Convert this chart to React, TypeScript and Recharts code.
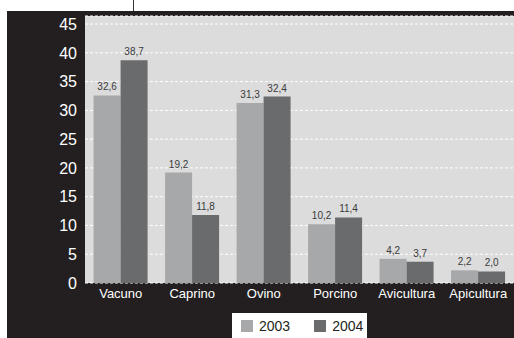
import React from 'react';
import { BarChart, Bar, XAxis, YAxis, CartesianGrid, Legend, LabelList } from 'recharts';

const categories = ['Vacuno', 'Caprino', 'Ovino', 'Porcino', 'Avicultura', 'Apicultura'];
const values2003 = [32.6, 19.2, 31.3, 10.2, 4.2, 2.2];
const values2004 = [38.7, 11.8, 32.4, 11.4, 3.7, 2.0];
const yTicks = [0, 5, 10, 15, 20, 25, 30, 35, 40, 45];

const data = categories.map((name, i) => ({
  name,
  '2003': values2003[i],
  '2004': values2004[i],
}));

const BLACK = '#231f20';
const FONT = '"Liberation Sans", Arial, sans-serif';

const fmt = (v: any) => Number(v).toFixed(1).replace('.', ',');

function LegendBox({ payload }: any) {
  return (
    <div style={{ display: 'flex', alignItems: 'center', height: 25, paddingLeft: 9 }}>
      {(payload || []).map((p: any) => (
        <div key={p.value} style={{ display: 'flex', alignItems: 'center', marginRight: 24 }}>
          <span style={{ width: 12, height: 12, background: p.color, display: 'inline-block', marginRight: 6 }} />
          <span style={{ color: BLACK, fontSize: 14, fontFamily: FONT }}>{p.value}</span>
        </div>
      ))}
    </div>
  );
}

export default function App() {
  return (
    <div style={{ position: 'absolute', left: 0, top: 0, width: 514, height: 338, background: '#fff', fontFamily: FONT, overflow: 'hidden' }}>
      <style>{'html,body{margin:0;overflow:hidden}'}</style>
      <div style={{ position: 'absolute', left: 133, top: 0, width: 1, height: 11, background: '#333' }} />
      <div style={{ position: 'absolute', left: 7, top: 11, width: 507, height: 327, background: BLACK }} />
      <div style={{ position: 'absolute', left: 0, top: 0 }}>
        <BarChart
          width={514}
          height={338}
          data={data}
          margin={{ top: 16, right: 0, bottom: 0, left: 0 }}
          barCategoryGap="12%"
          barGap={0}
        >
          <CartesianGrid
            vertical={false}
            fill="#dcdcdd"
            stroke="#ffffff"
            strokeDasharray="3 2"
            strokeWidth={1}
          />
          <XAxis
            dataKey="name"
            height={30}
            tickLine={false}
            axisLine={false}
            tickSize={6}
            tickMargin={0}
            tick={{ fill: '#ffffff', fontSize: 13, fontFamily: FONT }}
          />
          <YAxis
            width={85}
            domain={[0, 46.4]}
            ticks={yTicks}
            tickLine={false}
            axisLine={false}
            tickSize={6}
            tickMargin={2}
            tick={{ fill: '#ffffff', fontSize: 16, fontFamily: FONT }}
          />
          <Legend
            verticalAlign="bottom"
            height={25}
            content={<LegendBox />}
            wrapperStyle={{ left: 232, bottom: 0, width: 135, height: 25, background: '#ffffff' }}
          />
          <Bar dataKey="2003" fill="#a7a8aa" isAnimationActive={false}>
            <LabelList dataKey="2003" position="top" offset={5} formatter={fmt} fill="#3a3a3a" fontSize={10} fontFamily={FONT} />
          </Bar>
          <Bar dataKey="2004" fill="#6a6b6d" isAnimationActive={false}>
            <LabelList dataKey="2004" position="top" offset={5} formatter={fmt} fill="#3a3a3a" fontSize={10} fontFamily={FONT} />
          </Bar>
        </BarChart>
      </div>
    </div>
  );
}
